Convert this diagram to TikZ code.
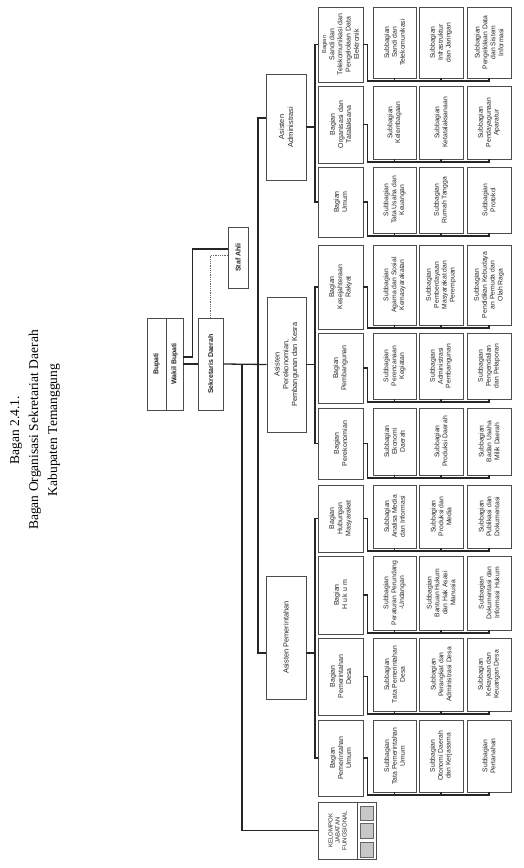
\documentclass[tikz,border=0pt]{standalone}
\usepackage{fontspec}
\setmainfont{Liberation Serif}
\setsansfont{Liberation Sans}
\tikzset{
  boxbase/.style={draw=black!70, line width=0.9pt, fill=white, inner sep=1pt, align=center, font=\sffamily, text=black!85},
  topbox/.style={font=\sffamily\bfseries\fontsize{7}{8}\selectfont},
  asis/.style={font=\sffamily\fontsize{7.4}{8.8}\selectfont},
  bag/.style={font=\sffamily\fontsize{7}{8.2}\selectfont},
  sub/.style={font=\sffamily\fontsize{6.8}{7.9}\selectfont},
  plain/.style={},
  conn/.style={line width=1.3pt, draw=black!85},
  dotline/.style={line width=0.8pt, draw=black!60, densely dotted},
  titletext/.style={font=\rmfamily\fontsize{13.5}{19}\selectfont, align=center, inner sep=0pt},
  kjftext/.style={font=\sffamily\fontsize{6}{7}\selectfont, align=center, inner sep=0pt, text=black!85},
  sq/.style={draw=black!60, line width=0.6pt, fill=black!22},
}
% \bx[style]{name}{x1}{y1}{x2}{y2}{text}
\newcommand\bx[7][plain]{%
  \pgfmathsetmacro\bxw{#5-#3}%
  \pgfmathsetmacro\bxh{#6-#4}%
  \node[boxbase,#1,rotate=90,minimum width=\bxh pt,minimum height=\bxw pt] (#2) at ({(#3+#5)/2},{(#4+#6)/2}) {#7};%
}
% \orgrow{id}{top}{bottom}{bagian}{sub1}{sub2}{sub3}
\newcommand\orgrow[7]{%
  \pgfmathsetmacro\subbot{#3-4}%
  \bx[bag]{b#1}{318}{#2}{363}{#3}{#4}%
  \bx[sub]{s#1a}{373}{#2}{416}{\subbot}{#5}%
  \bx[sub]{s#1b}{419}{#2}{463}{\subbot}{#6}%
  \bx[sub]{s#1c}{467}{#2}{511}{\subbot}{#7}%
  \coordinate (y#1) at (0,{#3-1});%
  \draw[conn] (b#1.south) -- ++(4,0) |- (s#1c.west |- y#1) -- (s#1c.west);%
  \draw[conn] (s#1a.west) -- (s#1a.west |- y#1);%
  \draw[conn] (s#1b.west) -- (s#1b.west |- y#1);%
}
\begin{document}
\begin{tikzpicture}[x=1pt,y=-1pt]
\useasboundingbox (0,0) rectangle (523,868);

% title
\node[titletext, rotate=90] (title) at (35,430) {Bagan 2.4.1.\\Bagan Organisasi Sekretariat Daerah\\Kabupaten Temanggung};

% top level
\bx[topbox]{bupati}{147}{318}{166}{410}{Bupati}
\bx[topbox]{wakil}{166}{318}{183}{410}{Wakil Bupati}
\bx[topbox]{sekda}{198}{318}{223}{410}{Sekretaris Daerah}
\bx[topbox]{staf}{228}{227}{248}{288}{Staf Ahli}

% assistants
\bx[asis]{aadm}{266}{74}{306}{180}{Asisten\\Administrasi}
\bx[asis]{asek}{267}{297}{306}{432}{Asisten\\Perekonomian,\\Pembangunan dan Kesra}
\bx[asis]{apem}{266}{576}{306}{699}{Asisten Pemerintahan}

% rows
\orgrow{A1}{7}{82}{\fontsize{5.6}{6.4}\selectfont Bagian\\Sandi dan\\Telekomunikasi dan\\Pengelolaan Data\\Elektronik}{Subbagian\\Sandi dan\\Telekomunikasi}{Subbagian\\Infrastruktur\\dan Jaringan}{Subbagian\\Pengelolaan Data\\dan Sistem\\Informasi}
\orgrow{A2}{86}{163}{Bagian\\Organisasi dan\\Tatalaksana}{Subbagian\\Kelembagaan}{Subbagian\\Ketatalaksanaan}{Subbagian\\Pendayagunaan\\Aparatur}
\orgrow{A3}{167}{237}{Bagian\\Umum}{Subbagian\\Tata Usaha dan\\Keuangan}{Subbagian\\Rumah Tangga}{Subbagian\\Protokol}
\orgrow{B1}{245}{329}{Bagian\\Kesejahteraan\\Rakyat}{Subbagian\\Agama dan Sosial\\Kemasyarakatan}{Subbagian\\Pemberdayaan\\Masyarakat dan\\Perempuan}{Subbagian\\Pendidikan Kebudaya\\an Pemuda dan\\Olah Raga}
\orgrow{B2}{333}{403}{Bagian\\Pembangunan}{Subbagian\\Perencanaan\\Kegiatan}{Subbagian\\Administrasi\\Pembangunan}{Subbagian\\Pengendalian\\dan Pelaporan}
\orgrow{B3}{408}{479}{Bagian\\Perekonomian}{Subbagian\\Ekonomi\\Daerah}{Subbagian\\Produksi Daerah}{Subbagian\\Badan Usaha\\Milik Daerah}
\orgrow{C1}{485}{552}{Bagian\\Hubungan\\Masyarakat}{Subbagian\\Analisa Media\\dan Informasi}{Subbagian\\Produksi dan\\Media}{Subbagian\\Publikasi dan\\Dokumentasi}
\orgrow{C2}{556}{634}{Bagian\\H u k u m}{Subbagian\\Peraturan Perundang\\-Undangan}{Subbagian\\Bantuan Hukum\\dan Hak Asasi\\Manusia}{Subbagian\\Dokumentasi dan\\Informasi Hukum}
\orgrow{C3}{638}{715}{Bagian\\Pemerintahan\\Desa}{Subbagian\\Tata Pemerintahan\\Desa}{Subbagian\\Perangkat dan\\Administrasi Desa}{Subbagian\\Kekayaan dan\\Keuangan Desa}
\orgrow{C4}{720}{796}{Bagian\\Pemerintahan\\Umum}{Subbagian\\Tata Pemerintahan\\Umum}{Subbagian\\Otonomi Daerah\\dan Kerjasama}{Subbagian\\Pertanahan}

% kelompok jabatan fungsional
\bx{kjf}{318}{802}{376}{859}{}
\node[kjftext, rotate=90] (kjft) at (337.5,830.5) {KELOMPOK\\JABATAN\\FUNGSIONAL};
\draw[draw=black!70, line width=0.7pt] (357,802) -- (357,859);
\foreach \a/\b in {806/820, 823/838, 842/857} \draw[sq] (360,\a) rectangle (373,\b);

% helper coordinates
\coordinate (c357) at (0,357);
\coordinate (c249) at (0,249);
\coordinate (c255) at (0,255);
\coordinate (c118) at (0,118);
\coordinate (c653) at (0,653);
\coordinate (tx) at (258,0);
\coordinate (lx) at (242,0);
\coordinate (busx) at (315,0);

% connectors top
\draw[conn] (wakil.south) -- (sekda.north);
\draw[conn] (wakil.south |- c357) -- ++(9,0) |- (staf.north |- c249);
\draw[dotline] (sekda.east) |- (staf.north |- c255);
\draw[conn] (sekda.south) -- (asek.north);
\draw[conn] (sekda.south -| lx) |- (kjf.north);
\draw[conn] (aadm.north |- c118) -- (tx |- c118) -- (tx |- c653) -- (apem.north |- c653);

% assistants to buses
\draw[conn] (aadm.south) -- (aadm.south -| busx);
\draw[conn] (asek.south) -- (asek.south -| busx);
\draw[conn] (apem.south |- c653) -- (busx |- c653);
\draw[conn] (bA1.north) -- (bA1.north -| busx) -- (bA3.north -| busx) -- (bA3.north);
\draw[conn] (bB1.north) -- (bB1.north -| busx) -- (bB3.north -| busx) -- (bB3.north);
\draw[conn] (bC1.north) -- (bC1.north -| busx) -- (bC4.north -| busx) -- (bC4.north);
\end{tikzpicture}
\end{document}
